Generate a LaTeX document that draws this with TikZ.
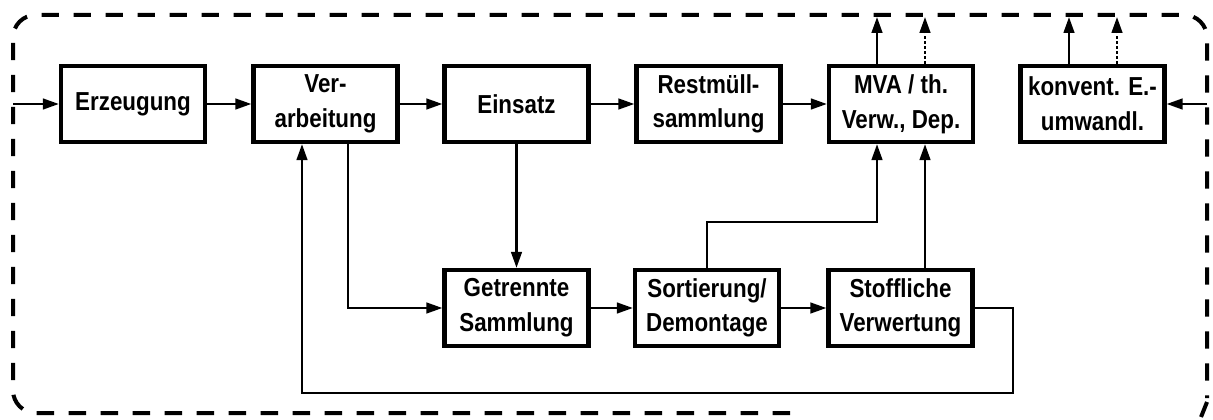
\documentclass[tikz,border=0pt]{standalone}
\usepackage{fontspec}
\setmainfont{Liberation Sans}[FakeStretch=0.86]
\usetikzlibrary{arrows.meta}
\begin{document}
\begin{tikzpicture}[x=0.75pt,y=-0.75pt,
  box/.style={draw, line width=3.2pt, minimum width=108pt, minimum height=57pt,
    inner sep=0pt, align=center, font=\fontsize{19.5}{26}\selectfont\bfseries},
  conn/.style={line width=1.8pt, -{Triangle[length=12pt,width=8pt]}},
  dotconn/.style={conn, dotted},
  border/.style={line width=3pt, dash pattern=on 13pt off 11pt}
]
\useasboundingbox (0,0) rectangle (1213,420);

% border
\draw[border, rounded corners=17pt] (790,413) -- (13,413) -- (13,15) -- (1207,15) -- (1207,398);
\draw[border] (1207,402) -- (1201,417);

% nodes
\node[box] (erz)   at (133,104)   {Erzeugung};
\node[box] (ver)   at (325.5,104) {Ver-\\arbeitung};
\node[box] (ein)   at (516.5,104) {Einsatz};
\node[box] (rest)  at (708.5,104) {Restmüll-\\sammlung};
\node[box] (mva)   at (901,104)   {MVA / th.\\Verw., Dep.};
\node[box] (konv)  at (1092.5,104){konvent. E.-\\umwandl.};
\node[box] (get)   at (516.5,308) {Getrennte\\Sammlung};
\node[box] (sort)  at (707,308)   {Sortierung/\\Demontage};
\node[box] (stoff) at (900.5,308) {Stoffliche\\Verwertung};

\coordinate (inL) at (13,104);
\coordinate (inR) at (1207,104);
\coordinate (mvaA) at (877,17);
\coordinate (mvaB) at (925,17);
\coordinate (konA) at (1069,17);
\coordinate (konB) at (1117,17);
\coordinate (fbR) at (1013,393);
\coordinate (fbL) at (302,393);
\coordinate (srtUp) at (707,222);
\coordinate (srtR) at (877,222);

% top row
\draw[conn] (inL) -- (erz.west);
\draw[conn] (erz) -- (ver);
\draw[conn] (ver) -- (ein);
\draw[conn] (ein) -- (rest);
\draw[conn] (rest) -- (mva);
\draw[conn] (inR) -- (konv.east);

% outputs to border
\draw[conn] (mva.north -| mvaA) -- (mvaA);
\draw[dotconn] (mva.north -| mvaB) -- (mvaB);
\draw[conn] (konv.north -| konA) -- (konA);
\draw[dotconn] (konv.north -| konB) -- (konB);

% to separate collection
\draw[conn] (ver.south -| 348,0) |- (get.west);
\draw[conn] (ein) -- (get);
\draw[conn] (get) -- (sort);
\draw[conn] (sort) -- (stoff);

% to MVA
\draw[conn] (sort.north) -- (srtUp) -- (srtR) -- (mva.south -| srtR);
\draw[conn] (stoff.north -| mvaB) -- (mva.south -| mvaB);

% feedback
\draw[conn] (stoff.east) -- (stoff.east -| fbR) -- (fbR) -- (fbL) -- (ver.south -| fbL);
\end{tikzpicture}
\end{document}
